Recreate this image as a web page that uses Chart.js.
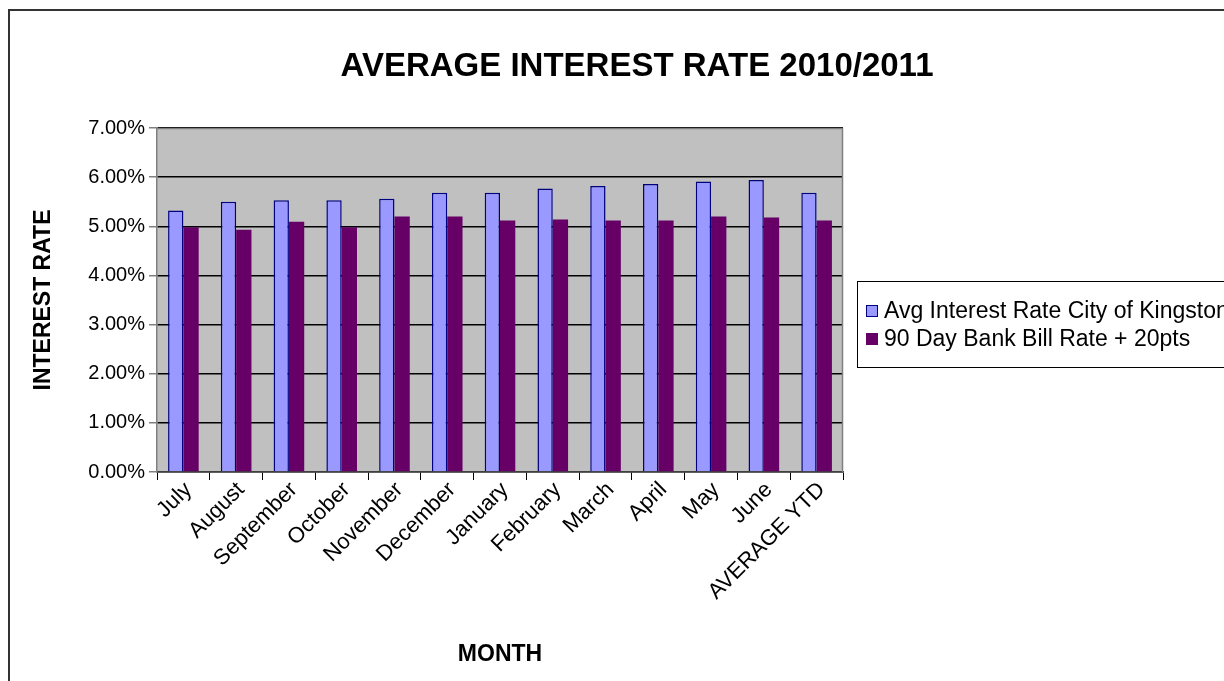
<!DOCTYPE html>
<html>
<head>
<meta charset="utf-8">
<script src="https://cdn.jsdelivr.net/npm/chart.js@4/dist/chart.umd.min.js"></script>
<style>
html,body{margin:0;padding:0;background:#fff;}
canvas{display:block;}
</style>
</head>
<body>
<canvas id="c" width="1224" height="681"></canvas>
<script>
const categories = ["July","August","September","October","November","December","January","February","March","April","May","June","AVERAGE YTD"];
const cityRate = [5.32,5.50,5.53,5.53,5.56,5.68,5.68,5.77,5.82,5.86,5.91,5.94,5.68];
const bankBillRate = [4.98,4.93,5.09,4.98,5.20,5.20,5.12,5.14,5.12,5.12,5.20,5.18,5.12];
const seriesNames = ["Avg Interest Rate City of Kingston","90 Day Bank Bill Rate + 20pts"];
const titleText = "AVERAGE INTEREST RATE 2010/2011";
const yTitle = "INTEREST RATE";
const xTitle = "MONTH";

const FONT = "Arial, 'Liberation Sans', sans-serif";

const decor = {
  id: 'decor',
  beforeDraw(chart) {
    const ctx = chart.ctx, a = chart.chartArea;
    ctx.save();
    ctx.fillStyle = '#fff';
    ctx.fillRect(0, 0, chart.width, chart.height);
    ctx.fillStyle = '#C0C0C0';
    ctx.fillRect(a.left, a.top, a.right - a.left, a.bottom - a.top);
    ctx.restore();
  },
  afterDraw(chart) {
    const ctx = chart.ctx, a = chart.chartArea;
    ctx.save();
    ctx.strokeStyle = '#808080';
    ctx.lineWidth = 1.5;
    ctx.beginPath();
    ctx.moveTo(a.left, a.top + 0.5);
    ctx.lineTo(a.right - 0.5, a.top + 0.5);
    ctx.lineTo(a.right - 0.5, a.bottom);
    ctx.stroke();
    ctx.strokeStyle = '#333';
    ctx.lineWidth = 2;
    ctx.strokeRect(9, 10, 1400, 1000);
    ctx.fillStyle = '#000';
    ctx.textAlign = 'center';
    ctx.textBaseline = 'middle';
    ctx.font = 'bold 33px ' + FONT;
    ctx.fillText(titleText, 637, 67);
    ctx.font = 'bold 23px ' + FONT;
    ctx.fillText(xTitle, (a.left + a.right) / 2, 655);
    ctx.save();
    ctx.translate(44, (a.top + a.bottom) / 2);
    ctx.rotate(-Math.PI / 2);
    ctx.fillText(yTitle, 0, 0);
    ctx.restore();
    ctx.strokeStyle = '#000';
    ctx.lineWidth = 1;
    ctx.strokeRect(857.5, 281.5, 500, 86);
    const ds = chart.data.datasets;
    const rows = [311, 339];
    ctx.font = '23px ' + FONT;
    ctx.textAlign = 'left';
    ds.forEach((d, i) => {
      const y = rows[i];
      ctx.fillStyle = d.backgroundColor;
      ctx.fillRect(866, y - 6, 12, 12);
      ctx.strokeStyle = d.borderColor;
      ctx.lineWidth = 1;
      ctx.strokeRect(866.5, y - 5.5, 11, 11);
      ctx.fillStyle = '#000';
      ctx.fillText(d.label, 884, y + 1);
    });
    ctx.restore();
  }
};

new Chart(document.getElementById('c'), {
  type: 'bar',
  data: {
    labels: categories,
    datasets: [
      { label: seriesNames[0], data: cityRate, backgroundColor: '#9999FF', borderColor: '#000080', borderWidth: 1.5 },
      { label: seriesNames[1], data: bankBillRate, backgroundColor: '#660066', borderColor: '#660066', borderWidth: 0 }
    ]
  },
  options: {
    responsive: false,
    animation: false,
    layout: { padding: { left: 0, right: 381, top: 128, bottom: 0 } },
    datasets: { bar: { categoryPercentage: 0.58, barPercentage: 1.0 } },
    plugins: { legend: { display: false }, title: { display: false }, tooltip: { enabled: false } },
    scales: {
      x: {
        afterFit(s) { s.height = 209; },
        grid: { display: true, drawOnChartArea: false, drawTicks: true, tickLength: 8, tickColor: '#000', offset: true },
        border: { display: true, color: '#404040', width: 1.5 },
        ticks: { color: '#000', font: { family: FONT, size: 22 }, minRotation: 45, maxRotation: 45, padding: -3, labelOffset: 5, autoSkip: false }
      },
      y: {
        min: 0, max: 7,
        afterFit(s) { s.width = 157; },
        grid: { color: '#000', lineWidth: 1.5, drawTicks: true, tickLength: 8, tickColor: '#808080' },
        border: { display: true, color: '#808080', width: 1.5 },
        ticks: { stepSize: 1, color: '#000', font: { family: FONT, size: 20 }, padding: 4,
          callback: v => v.toFixed(2) + '%' }
      }
    }
  },
  plugins: [decor]
});
</script>
</body>
</html>
